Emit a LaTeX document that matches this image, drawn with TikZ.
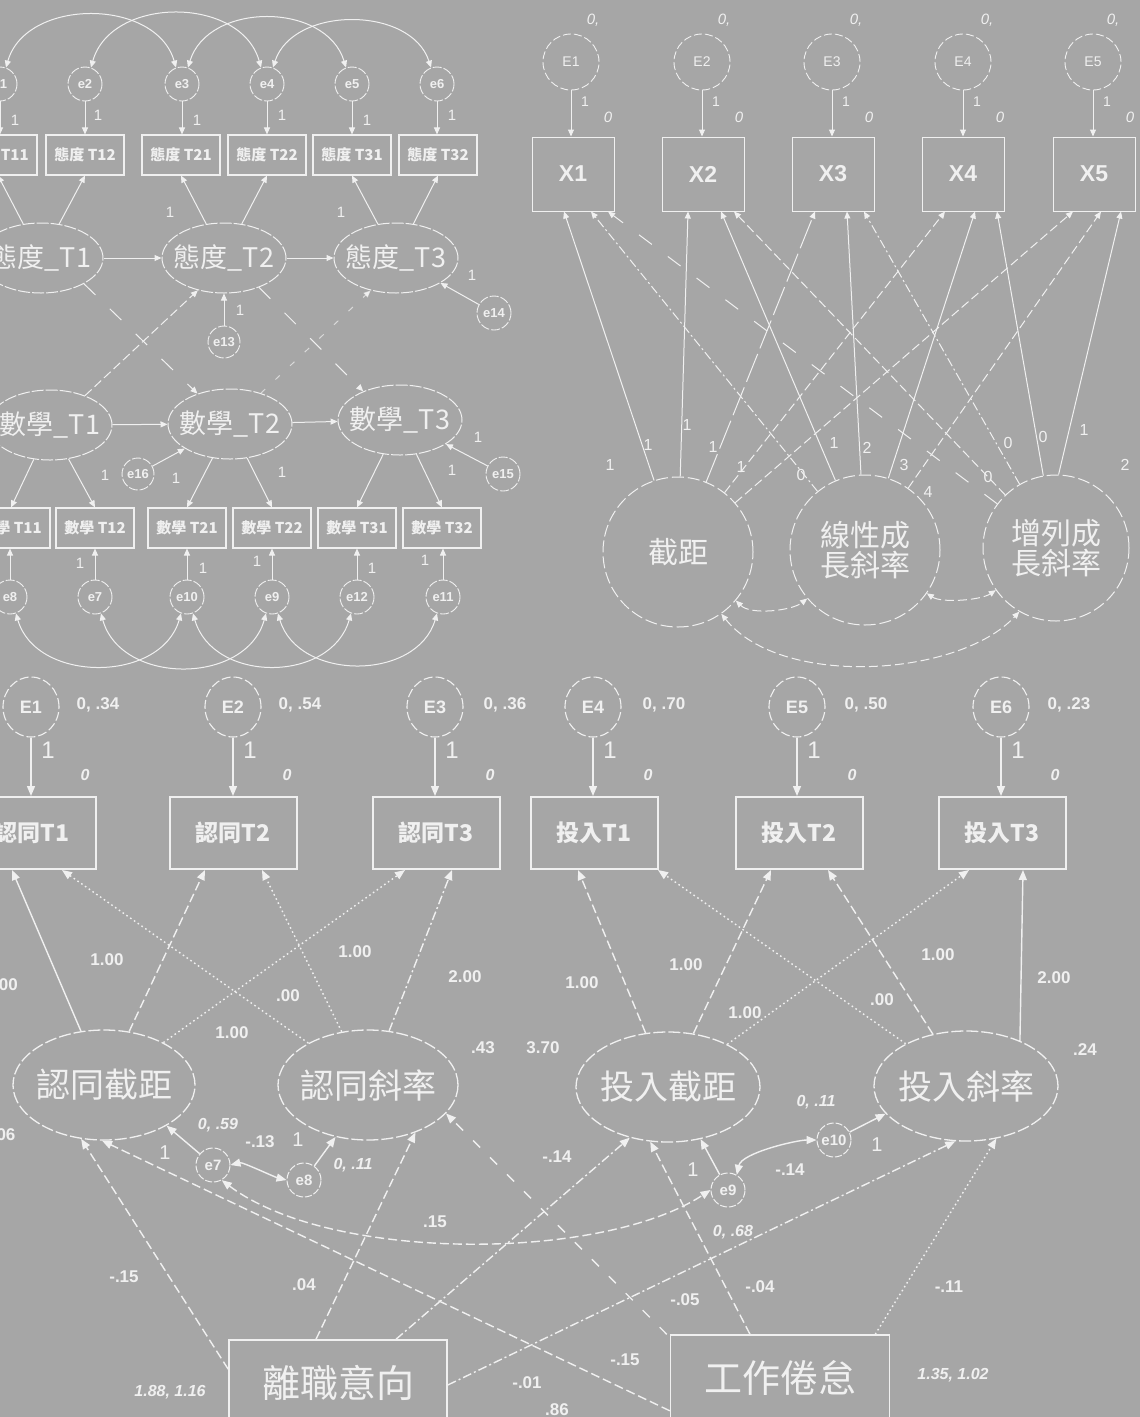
\documentclass[tikz,border=0pt]{standalone}
\usepackage{fontspec}
\setmainfont{Liberation Sans}
\newfontfamily\cjk{Noto Sans CJK TC}
\usetikzlibrary{arrows.meta,shapes.geometric,calc}
\definecolor{bgc}{RGB}{166,166,166}
\definecolor{fgc}{RGB}{240,240,240}
\newcommand{\myfs}[1]{\fontsize{#1}{#1}\selectfont}
\begin{document}
\begin{tikzpicture}[x=1pt,y=-1pt,
 every node/.style={text=fgc,inner sep=0pt},
 ln/.style={draw=fgc,line width=1pt},
 ar/.style={ln,-{Triangle[length=7pt,width=6pt]}},
 dar/.style={ln,{Triangle[length=7pt,width=6pt]}-{Triangle[length=7pt,width=6pt]}},
 arB/.style={draw=fgc,line width=1.4pt,-{Triangle[length=10pt,width=8pt]}},
 darB/.style={draw=fgc,line width=1.4pt,{Triangle[length=10pt,width=8pt]}-{Triangle[length=10pt,width=8pt]}},
 dsh/.style={dash pattern=on 9pt off 4pt},
 lgap/.style={dash pattern=on 16pt off 20pt},
 dtt/.style={dash pattern=on 1.6pt off 3pt},
 dshdot/.style={dash pattern=on 9pt off 3pt on 2pt off 3pt},
 ec/.style={circle,draw=fgc,line width=0.9pt,dash pattern=on 9pt off 2pt,minimum size=34pt,font=\bfseries\myfs{13}},
 sbox/.style={draw=fgc,line width=1.1pt,minimum width=78pt,minimum height=40pt,font=\cjk\bfseries\myfs{15}},
 lat/.style={ellipse,draw=fgc,line width=1pt,dash pattern=on 12pt off 2pt,minimum width=124pt,minimum height=70pt},
 lt/.style={font=\cjk\myfs{27}},
 one/.style={font=\myfs{15}},
 Ec/.style={ellipse,draw=fgc,line width=0.9pt,dash pattern=on 8pt off 3pt,minimum width=56pt,minimum height=56pt,font=\myfs{14}},
 xbox/.style={draw=fgc,line width=1pt,minimum width=82pt,minimum height=74pt,font=\bfseries\myfs{23}},
 gc/.style={circle,draw=fgc,line width=1pt,dash pattern=on 12pt off 4pt,minimum size=150pt},
 gt/.style={font=\cjk\myfs{30},align=center},
 tl/.style={font=\myfs{16}},
 tli/.style={font=\itshape\myfs{15}},
 Bc/.style={ellipse,draw=fgc,line width=1.1pt,dash pattern=on 9pt off 3pt,minimum width=56pt,minimum height=60pt,font=\bfseries\myfs{18}},
 bbox/.style={draw=fgc,line width=2pt,minimum width=127pt,minimum height=72pt,font=\cjk\bfseries\myfs{23}},
 blat/.style={ellipse,draw=fgc,line width=1.3pt,dash pattern=on 12pt off 3pt,minimum width=182pt,minimum height=110pt},
 bt/.style={font=\cjk\myfs{34}},
 pbox/.style={draw=fgc,line width=1.5pt,minimum width=218pt,minimum height=86pt,font=\cjk\myfs{38}},
 bl/.style={font=\bfseries\myfs{17}},
 bli/.style={font=\bfseries\itshape\myfs{16}},
 bone/.style={font=\myfs{24}},
 dc/.style={circle,draw=fgc,line width=1pt,dash pattern=on 7pt off 2pt,minimum size=34pt,font=\bfseries\myfs{15}}
]
\useasboundingbox (0,0) rectangle (1140,1417);
\fill[bgc] (0,0) rectangle (1140,1417);
\clip (0,0) rectangle (1140,1417);

%================ TOP LEFT =================
\node[ec] (e1) at (0,84) {e1};
\node[ec] (e2) at (85,84) {e2};
\node[ec] (e3) at (182,84) {e3};
\node[ec] (e4) at (267,84) {e4};
\node[ec] (e5) at (352,84) {e5};
\node[ec] (e6) at (437,84) {e6};
\node[sbox] (a11) at (-2,155) {態度 T11};
\node[sbox] (a12) at (85,155) {態度 T12};
\node[sbox] (a21) at (181,155) {態度 T21};
\node[sbox] (a22) at (267,155) {態度 T22};
\node[sbox] (a31) at (352,155) {態度 T31};
\node[sbox] (a32) at (438,155) {態度 T32};
\foreach \e/\b in {e1/a11,e2/a12,e3/a21,e4/a22,e5/a31,e6/a32}
  \draw[ar] (\e) -- (\e |- \b.north);
\draw[dar] (e1.70) .. controls +(20,-70) and +(-20,-70) .. (e3.110);
\draw[dar] (e2.70) .. controls +(20,-72) and +(-20,-72) .. (e4.110);
\draw[dar] (e3.70) .. controls +(20,-66) and +(-20,-66) .. (e5.110);
\draw[dar] (e4.70) .. controls +(20,-62) and +(-20,-62) .. (e6.110);

\node[lat,label={[lt]center:態度\_T1}] (att1) at (41,258) {};
\node[lat,label={[lt]center:態度\_T2}] (att2) at (224,258) {};
\node[lat,label={[lt]center:態度\_T3}] (att3) at (396,258) {};
\draw[ar] (att1) -- (a11.south);
\draw[ar] (att1) -- (a12.south);
\draw[ar] (att2) -- (a21.south);
\draw[ar] (att2) -- (a22.south);
\draw[ar] (att3) -- (a31.south);
\draw[ar] (att3) -- (a32.south);
\draw[ar] (att1) -- (att2);
\draw[ar] (att2) -- (att3);
\node[ec,minimum size=32pt] (e13) at (224,342) {e13};
\node[ec] (e14) at (494,313) {e14};
\draw[ar] (e13) -- (att2);
\draw[ar] (e14) -- (att3);

\node[lat,label={[lt]center:數學\_T1}] (mat1) at (50,425) {};
\node[lat,label={[lt]center:數學\_T2}] (mat2) at (230,424) {};
\node[lat,label={[lt]center:數學\_T3}] (mat3) at (400,420) {};
\draw[ar] (mat1) -- (mat2);
\draw[ar] (mat2) -- (mat3);
\draw[ar,dsh] (mat1.40) -- (att2.231);
\draw[ar,lgap] (att1.-31) -- (mat2.137);
\draw[ar,lgap] (att2.-40) -- (mat3.142);
\draw[ar,dash pattern=on 6pt off 14pt,draw opacity=0.7] (mat2.45) -- (att3.232);

\node[sbox] (m11) at (11,528) {數學 T11};
\node[sbox] (m12) at (95,528) {數學 T12};
\node[sbox] (m21) at (187,528) {數學 T21};
\node[sbox] (m22) at (272,528) {數學 T22};
\node[sbox] (m31) at (357,528) {數學 T31};
\node[sbox] (m32) at (442,528) {數學 T32};
\draw[ar] (mat1) -- (m11.north);
\draw[ar] (mat1) -- (m12.north);
\draw[ar] (mat2) -- (m21.north);
\draw[ar] (mat2) -- (m22.north);
\draw[ar] (mat3) -- (m31.north);
\draw[ar] (mat3) -- (m32.north);
\node[ec,minimum size=32pt] (e16) at (138,474) {e16};
\node[ec] (e15) at (503,474) {e15};
\draw[ar] (e16) -- (mat2);
\draw[ar] (e15) -- (mat3);

\node[ec] (e8) at (10,597) {e8};
\node[ec] (e7) at (95,597) {e7};
\node[ec] (e10) at (187,597) {e10};
\node[ec] (e9) at (272,597) {e9};
\node[ec] (e12) at (357,597) {e12};
\node[ec] (e11) at (443,597) {e11};
\foreach \e/\b in {e8/m11,e7/m12,e10/m21,e9/m22,e12/m31,e11/m32}
  \draw[ar] (\e) -- (\e |- \b.south);
\draw[dar] (e8.-70) .. controls +(20,70) and +(-20,70) .. (e10.-110);
\draw[dar] (e7.-70) .. controls +(20,72) and +(-20,72) .. (e9.-110);
\draw[dar] (e10.-70) .. controls +(20,70) and +(-20,70) .. (e12.-110);
\draw[dar] (e9.-70) .. controls +(20,68) and +(-20,68) .. (e11.-110);

\foreach \p in {(15,120),(98,115),(197,120),(282,115),(367,120),(452,115),(170,212),(341,212),(240,310),(472,275),(105,475),(176,478),(282,472),(452,470),(478,437),(80,563),(203,568),(257,561),(372,568),(425,560)}
  \node[one] at \p {1};

%================ TOP RIGHT =================
\node[Ec] (T1) at (571,62) {E1};
\node[Ec] (T2) at (702,62) {E2};
\node[Ec] (T3) at (832,62) {E3};
\node[Ec] (T4) at (963,62) {E4};
\node[Ec] (T5) at (1093,62) {E5};
\node[xbox] (X1) at (573,174) {X1};
\node[xbox] (X2) at (703,174) {X2};
\node[xbox] (X3) at (833,174) {X3};
\node[xbox] (X4) at (963,174) {X4};
\node[xbox] (X5) at (1094,174) {X5};
\foreach \e/\b in {T1/X1,T2/X2,T3/X3,T4/X4,T5/X5}
  \draw[ar] (\e) -- (\e |- \b.north);
\foreach \x in {593,724,856,987,1113} \node[tli] at (\x,20) {0,};
\foreach \x in {585,716,846,977,1107} \node[tl,font=\myfs{14}] at (\x,102) {1};
\foreach \x in {608,739,869,1000,1130} \node[tli] at (\x,117) {0};

\node[gc,label={[gt]center:截距}] (gI) at (678,552) {};
\node[gc,label={[gt]center:線性成\\長斜率}] (gL) at (865,550) {};
\node[gc,minimum size=146pt,label={[gt]center:增列成\\長斜率}] (gQ) at (1056,548) {};

\draw[ar] (gI) -- ($(X1.south)+(-9,0)$);
\draw[ar] (gI) -- ($(X2.south)+(-15,0)$);
\draw[ar,dash pattern=on 30pt off 6pt] (gI) -- ($(X3.south)+(-18,0)$);
\draw[ar,dsh] (gI) -- ($(X4.south)+(-18,0)$);
\draw[ar,dsh] (gI) -- ($(X5.south)+(-21,0)$);
\draw[ar,dshdot] (gL) -- ($(X1.south)+(18,0)$);
\draw[ar] (gL) -- ($(X2.south)+(18,0)$);
\draw[ar] (gL) -- ($(X3.south)+(14,0)$);
\draw[ar] (gL) -- ($(X4.south)+(12,0)$);
\draw[ar,dsh] (gL) -- ($(X5.south)+(7,0)$);
\draw[ar,lgap] (gQ) -- ($(X1.south)+(35,0)$);
\draw[ar,dsh] (gQ) -- ($(X2.south)+(31,0)$);
\draw[ar,dshdot] (gQ) -- ($(X3.south)+(31,0)$);
\draw[ar] (gQ) -- ($(X4.south)+(34,0)$);
\draw[ar] (gQ.88) -- ($(X5.south)+(27,0)$);

\draw[dar,dsh] (gI.-40) .. controls +(15,15) and +(-15,12) .. (gL.220);
\draw[dar,dsh] (gL.-35) .. controls +(15,10) and +(-15,10) .. (gQ.215);
\draw[dar,dsh] (gI.-55) .. controls +(60,75) and +(-60,65) .. (gQ.-120);

\foreach \p/\t in {(610,465)/1,(648,445)/1,(687,425)/1,(713,447)/1,(741,467)/1,(801,475)/0,(834,443)/1,(867,448)/2,(904,465)/3,(928,492)/4,(988,477)/0,(1008,443)/0,(1043,437)/0,(1084,430)/1,(1125,465)/2}
  \node[tl] at \p {\t};

%================ BOTTOM =================
\node[Bc] (BE1) at (31,707) {E1};
\node[Bc] (BE2) at (233,707) {E2};
\node[Bc] (BE3) at (435,707) {E3};
\node[Bc] (BE4) at (593,707) {E4};
\node[Bc] (BE5) at (797,707) {E5};
\node[Bc] (BE6) at (1001,707) {E6};
\node[bbox] (B1) at (32,833) {認同T1};
\node[bbox] (B2) at (233,833) {認同T2};
\node[bbox] (B3) at (436,833) {認同T3};
\node[bbox] (B4) at (594,833) {投入T1};
\node[bbox] (B5) at (799,833) {投入T2};
\node[bbox] (B6) at (1002,833) {投入T3};
\foreach \e/\b in {BE1/B1,BE2/B2,BE3/B3,BE4/B4,BE5/B5,BE6/B6}
  \draw[arB] (\e) -- (\e |- \b.north);
\foreach \p/\t in {(98,705)/{0, .34},(300,705)/{0, .54},(505,705)/{0, .36},(664,705)/{0, .70},(866,705)/{0, .50},(1069,705)/{0, .23}}
  \node[bl] at \p {\t};
\foreach \x in {48,250,452,610,814,1018} \node[bone] at (\x,750) {1};
\foreach \x in {85,287,490,648,852,1055} \node[bli] at (\x,775) {0};

\node[blat,label={[bt]center:認同截距}] (iA) at (104,1085) {};
\node[blat,minimum width=180pt,label={[bt]center:認同斜率}] (sA) at (368,1085) {};
\node[blat,minimum width=184pt,label={[bt]center:投入截距}] (iB) at (668,1087) {};
\node[blat,minimum width=184pt,label={[bt]center:投入斜率}] (sB) at (966,1086) {};

\draw[arB] (iA) -- ($(B1.south)+(-20,0)$);
\draw[arB,dsh] (iA) -- ($(B2.south)+(-28,0)$);
\draw[arB,dtt] (iA) -- ($(B3.south)+(-31,0)$);
\draw[arB,dtt] (sA) -- ($(B1.south)+(30,0)$);
\draw[arB,dtt] (sA) -- ($(B2.south)+(29,0)$);
\draw[arB,dshdot] (sA) -- ($(B3.south)+(16,0)$);
\draw[arB,dsh] (iB) -- ($(B4.south)+(-16,0)$);
\draw[arB,dsh] (iB) -- ($(B5.south)+(-28,0)$);
\draw[arB,dtt] (iB) -- ($(B6.south)+(-33,0)$);
\draw[arB,dtt] (sB) -- ($(B4.south)+(64,0)$);
\draw[arB,dsh] (sB) -- ($(B5.south)+(29,0)$);
\draw[arB] (sB.40) -- ($(B6.south)+(21,0)$);

\node[bl,anchor=east] at (18,985) {1.00};
\foreach \p/\t in {(107,960)/1.00,(232,1033)/1.00,(288,996)/.00,(355,952)/1.00,(465,977)/2.00,(582,983)/1.00,(686,965)/1.00,(745,1013)/1.00,(882,1000)/.00,(938,955)/1.00,(1054,978)/2.00}
  \node[bl] at \p {\t};

\node[pbox] (P1) at (338,1383) {離職意向};
\node[pbox,minimum width=219pt] (P2) at (780,1378) {工作倦怠};

\node[dc] (z7) at (213,1165) {e7};
\node[dc] (z8) at (304,1180) {e8};
\node[dc] (z9) at (728,1190) {e9};
\node[dc] (z10) at (834,1140) {e10};
\draw[arB] (z7) -- (iA.-33);
\draw[arB] (z8) -- (sA.238);
\draw[arB] (z9) -- (iB.302);
\draw[arB] (z10) -- (sB.199);
\draw[darB] (z7.east) .. controls +(12,-3) and +(-12,-3) .. (z8.west);
\draw[darB,dsh] (z7.-60) .. controls (330,1262) and (600,1262) .. (z9.west);
\draw[darB] (z9.60) .. controls +(5,-22) and +(-20,0) .. (z10.west);

\draw[arB,dsh] ($(P1.north west)+(0,30)$) -- (iA.247);
\draw[arB,dsh] ($(P2.south west)+(0,-11)$) -- (iA.268);
\draw[arB,dsh] ($(P1.north)+(-22,0)$) -- (sA.-45);
\draw[arB,dash pattern=on 10pt off 14pt] ($(P2.north west)+(-3,0)$) -- (sA.-20);
\draw[arB,dshdot] ($(P1.north)+(58,0)$) -- (iB.233);
\draw[arB,dsh] ($(P2.north)+(-30,0)$) -- (iB.252);
\draw[arB,dshdot] ($(P1.east)+(0,2)$) -- (sB.259);
\draw[arB,dtt] ($(P2.north east)+(-15,0)$) -- (sB.300);

\foreach \p/\t in {(124,1277)/-.15,(304,1285)/.04,(557,1157)/-.14,(625,1360)/-.15,(527,1383)/-.01,(557,1410)/.86,(685,1300)/-.05,(760,1287)/-.04,(949,1287)/-.11,(435,1222)/.15,(790,1170)/-.14,(260,1142)/-.13,(483,1048)/.43,(543,1048)/3.70,(1085,1050)/.24,(6,1135)/06}
  \node[bl] at \p {\t};
\foreach \p/\t in {(733,1232)/{0, .68},(816,1102)/{0, .11},(218,1125)/{0, .59},(353,1165)/{0, .11}}
  \node[bli] at \p {\t};
\foreach \p in {(298,1140),(165,1153),(693,1170),(877,1145)}
  \node[font=\myfs{20}] at \p {1};
\node[bli] at (170,1392) {1.88, 1.16};
\node[bli] at (953,1375) {1.35, 1.02};
\end{tikzpicture}
\end{document}
